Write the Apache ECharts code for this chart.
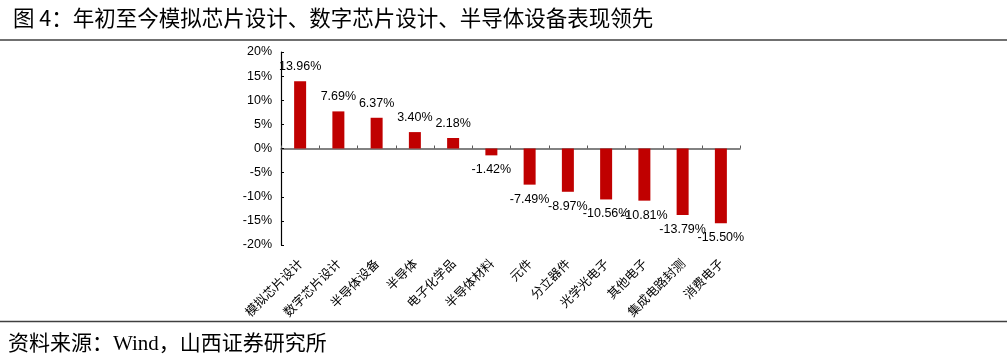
<!DOCTYPE html>
<html>
<head>
<meta charset="utf-8">
<script src="https://cdn.jsdelivr.net/npm/echarts@6/dist/echarts.min.js"></script>
<style>
html,body{margin:0;padding:0;background:#fff;}
#chart{width:1007px;height:363px;}
</style>
</head>
<body>
<div id="chart"></div>
<script>
var categories = ['模拟芯片设计','数字芯片设计','半导体设备','半导体','电子化学品','半导体材料','元件','分立器件','光学光电子','其他电子','集成电路封测','消费电子'];
var values = [13.96, 7.69, 6.37, 3.40, 2.18, -1.42, -7.49, -8.97, -10.56, -10.81, -13.79, -15.50];
var yTicks = { min: -20, max: 20, interval: 5 };
var titleText = '图 4：年初至今模拟芯片设计、数字芯片设计、半导体设备表现领先';
var sourceText = '资料来源：Wind，山西证券研究所';

var chart = echarts.init(document.getElementById('chart'), null, {renderer: 'canvas'});
var option = {
  animation: false,
  backgroundColor: '#fff',
  title: {
    text: titleText,
    left: 8, top: 2,
    textStyle: { fontFamily: 'Noto Sans CJK SC', fontSize: 21.5, fontWeight: 'normal', color: '#000' }
  },
  graphic: [
    { type: 'line', shape: { x1: 0, y1: 40, x2: 1007, y2: 40 }, style: { stroke: '#404040', lineWidth: 1.5 } },
    { type: 'line', shape: { x1: 0, y1: 321.5, x2: 1007, y2: 321.5 }, style: { stroke: '#404040', lineWidth: 1.5 } },
    { type: 'text', left: 8, top: 334, style: { text: sourceText, font: '21px "Liberation Serif", "Noto Sans CJK SC"', fill: '#000' } }
  ],
  grid: { left: 281, right: 267, top: 52, bottom: 118, containLabel: false },
  xAxis: [
    {
      type: 'category', data: categories,
      axisLine: { onZero: true, lineStyle: { color: '#595959', width: 1.5 } },
      axisTick: { show: true, inside: true, length: 3, interval: 0, lineStyle: { color: '#595959' } },
      axisLabel: { show: false, interval: 0 }
    },
    {
      type: 'category', data: categories, position: 'bottom',
      axisLine: { show: false, onZero: false },
      axisTick: { show: false },
      axisLabel: { show: true, rotate: 45, interval: 0, margin: 16, fontSize: 12.5, color: '#000', fontFamily: 'Noto Sans CJK SC' }
    }
  ],
  yAxis: {
    type: 'value', min: yTicks.min, max: yTicks.max, interval: yTicks.interval,
    axisLine: { show: true, lineStyle: { color: '#000', width: 1.2 } },
    axisTick: { show: true, inside: true, length: 3, lineStyle: { color: '#000' } },
    splitLine: { show: false },
    axisLabel: { formatter: '{value}%', fontSize: 12.5, color: '#000', margin: 9, fontFamily: 'Liberation Sans' }
  },
  series: [{
    type: 'bar', xAxisIndex: 0, barWidth: 12,
    itemStyle: { color: '#C00000' },
    label: {
      show: true, distance: 8,
      formatter: function (p) { return p.value.toFixed(2) + '%'; },
      fontSize: 12.5, color: '#000', fontFamily: 'Liberation Sans'
    },
    data: values.map(function (v) {
      return { value: v, label: { position: v >= 0 ? 'top' : 'bottom' } };
    })
  }]
};
chart.setOption(option);
</script>
</body>
</html>
